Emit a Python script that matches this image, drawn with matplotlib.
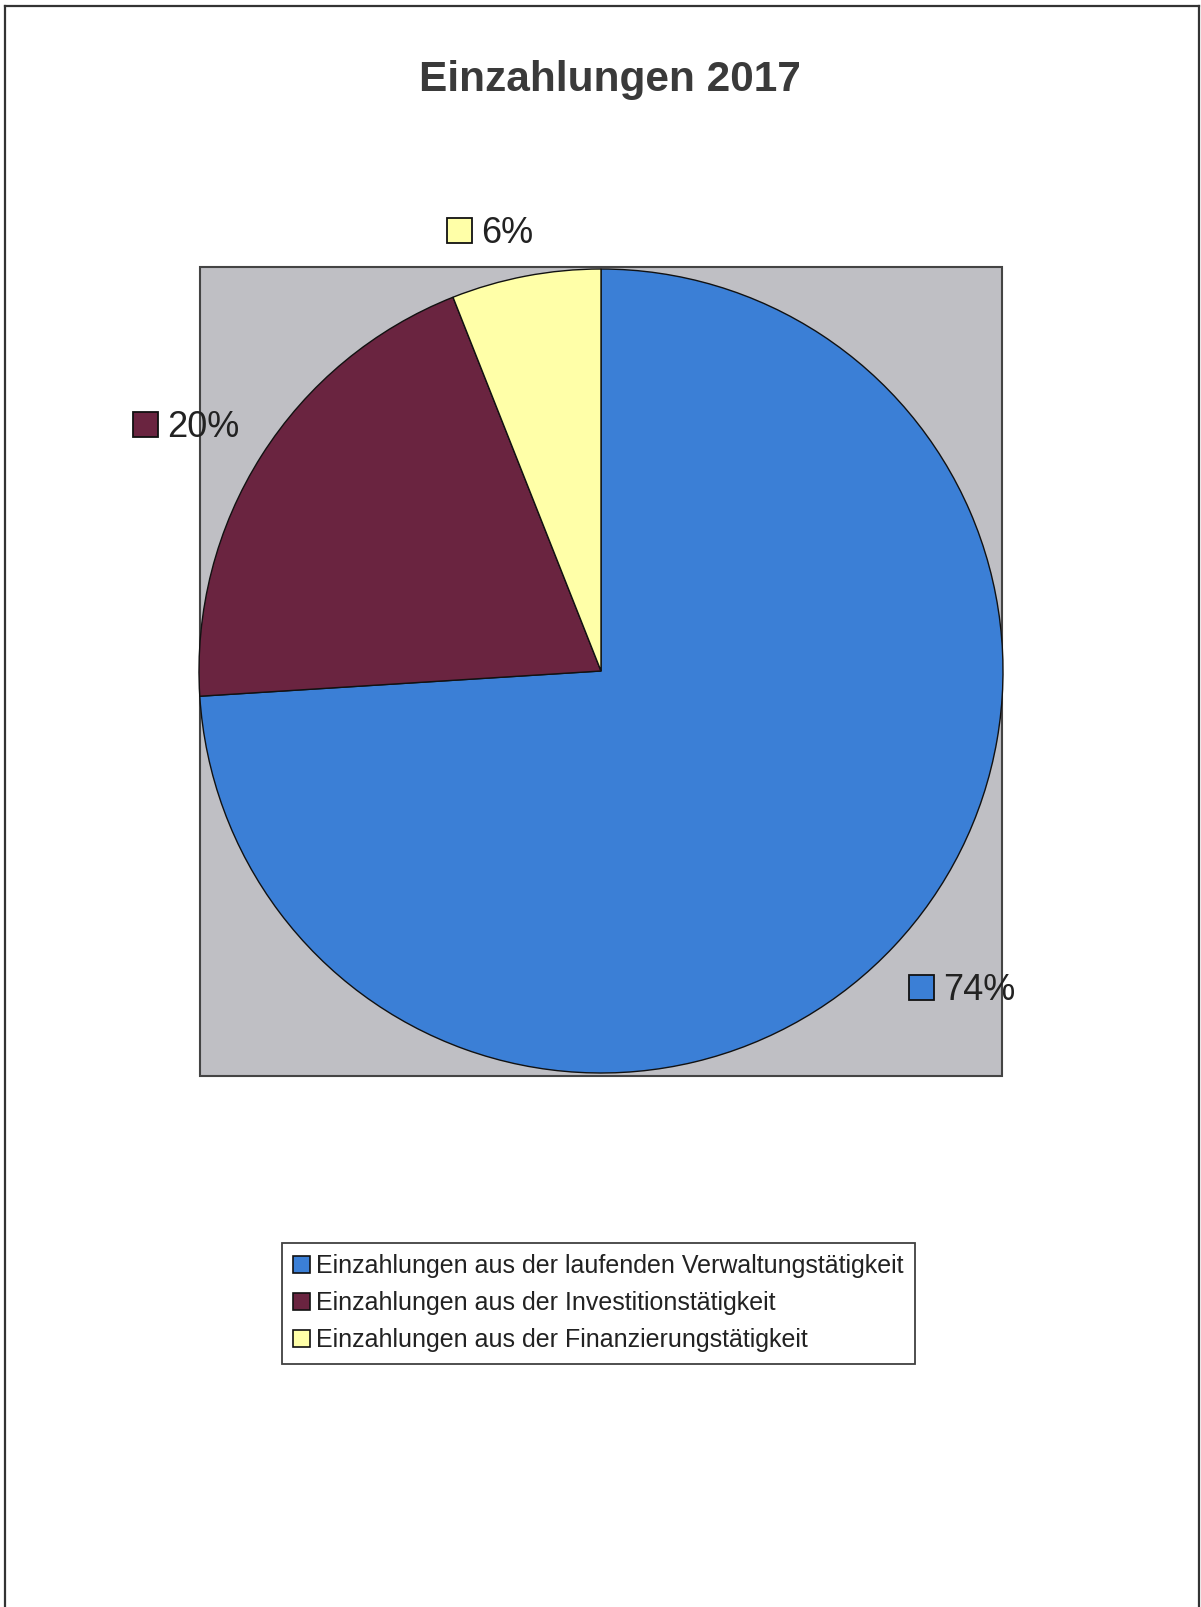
import matplotlib
matplotlib.use("Agg")
import matplotlib.pyplot as plt
from matplotlib.patches import Rectangle, Patch
from matplotlib.lines import Line2D

plt.rcParams['font.family'] = ['Liberation Sans', 'DejaVu Sans']

title = "Einzahlungen 2017"
categories = [
    "Einzahlungen aus der laufenden Verwaltungstätigkeit",
    "Einzahlungen aus der Investitionstätigkeit",
    "Einzahlungen aus der Finanzierungstätigkeit",
]
values = [74, 20, 6]
colors = ["#3B7FD6", "#6A2440", "#FFFFA8"]

W, H = 1201, 1607
fig = plt.figure(figsize=(W / 100, H / 100), dpi=100)
ax = fig.add_axes([0, 0, 1, 1])

def Y(y):  # convert top-down pixel y to axes y
    return H - y

# page border
for xs, ys in [([5, 5], [6, H]), ([5, 1199], [6, 6]), ([1199, 1199], [6, H])]:
    ax.add_line(Line2D(xs, [Y(v) for v in ys], color="#333333", lw=1.6))

# gray plot area
ax.add_patch(Rectangle((200, Y(1076)), 802, 809, facecolor="#BFBFC4",
                       edgecolor="#444444", lw=1.5, zorder=1))

# pie
cx, cy, r = 601, 671, 402
wedges, _ = ax.pie(values, colors=colors, startangle=90, counterclock=False,
                   center=(cx, Y(cy)), radius=r, frame=True,
                   wedgeprops=dict(edgecolor="#111111", linewidth=1.0))
for w in wedges:
    w.set_zorder(2)

# data labels
label_pos = [(909, 1000), (133, 437), (447, 243)]
for v, c, (lx, by) in zip(values, colors, label_pos):
    ax.add_patch(Rectangle((lx, Y(by)), 25, 25, facecolor=c,
                           edgecolor="#111111", lw=1.3, zorder=3))
    ax.text(lx + 34, Y(by), f"{v}%", fontsize=26, color="#222222",
            va="baseline", ha="left", zorder=4)

# title
ax.text(610, Y(91), title, fontsize=30.5, fontweight="bold", color="#3A3A3A",
        ha="center", va="baseline")

# legend
handles = [Patch(facecolor=c, edgecolor="#111111", lw=1.2) for c in colors]
leg = ax.legend(handles, categories, loc="upper left",
                bbox_to_anchor=(282, Y(1243)), bbox_transform=ax.transData,
                fontsize=18.0, frameon=True, fancybox=False, shadow=False,
                borderaxespad=0, borderpad=0.45, handlelength=0.65,
                handleheight=0.65, handletextpad=0.25, labelspacing=0.52)
leg.get_frame().set_edgecolor("#111111")
leg.get_frame().set_linewidth(1.3)
for t in leg.get_texts():
    t.set_color("#222222")

ax.set_xlim(0, W)
ax.set_ylim(0, H)
ax.set_aspect("auto")
ax.axis("off")

fig.savefig("out.png", dpi=100, facecolor="white")
